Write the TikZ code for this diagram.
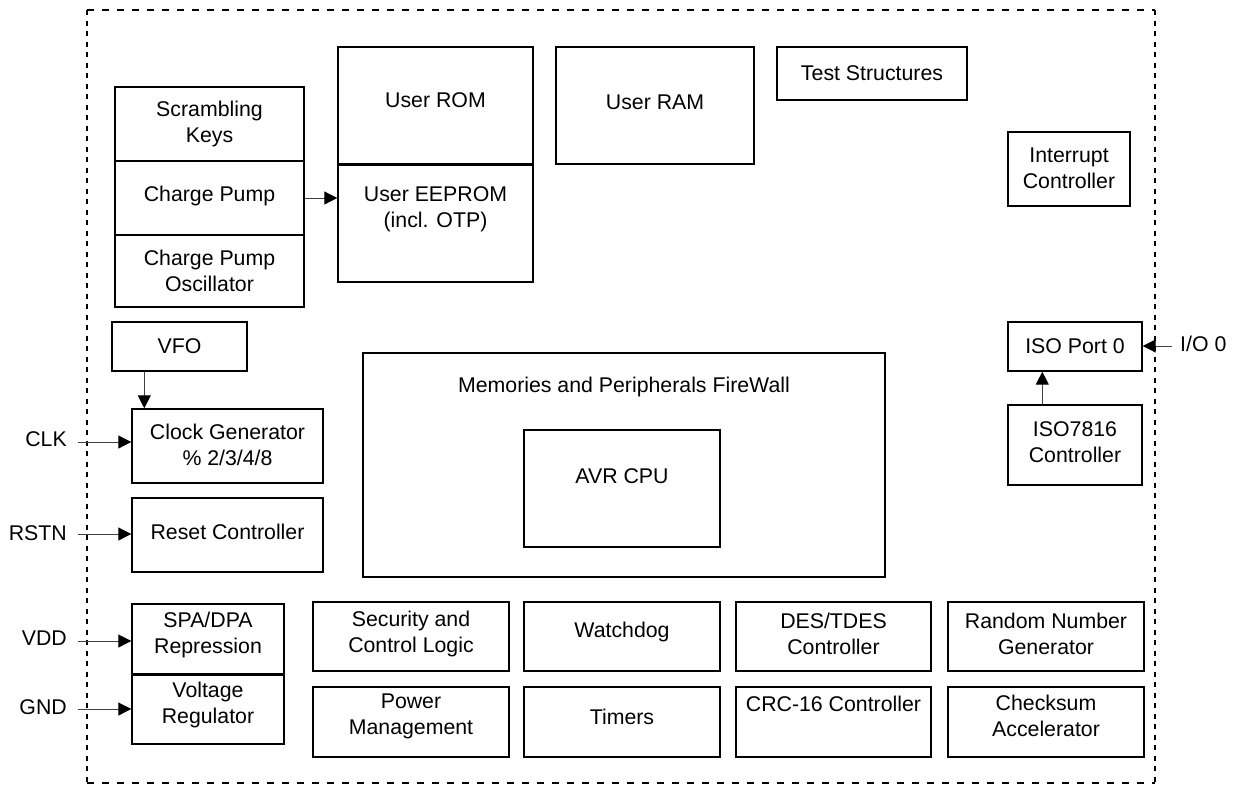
\documentclass[tikz,border=0pt]{standalone}
\usepackage{fontspec}
\setmainfont{Liberation Sans}
\usetikzlibrary{arrows.meta,calc}
\tikzset{
  box/.style={draw, line width=1.4pt, inner sep=0pt, rectangle},
  txt/.style={align=center, inner sep=0pt, font=\fontsize{21.3}{26}\selectfont},
  arr/.style={line width=1pt, draw=black!75, -{Triangle[length=13pt,width=13pt,color=black]}},
  hborder/.style={line width=2pt, dash pattern=on 7pt off 8pt},
  vborder/.style={line width=2pt, dash pattern=on 5pt off 5.5pt}
}
\newcommand\blk[7]{%
  \node[box, minimum width={#4-#2}, minimum height={#5-#3}] (#1) at ({(#2+#4)/2},{(#3+#5)/2}) {};
  \node[txt] (#1-t) at ({(#2+#4)/2},#6) {#7};
}
\begin{document}
\begin{tikzpicture}[x=1pt,y=-1pt]
\useasboundingbox (0,0) rectangle (1236,785);
% dashed border
\draw[hborder] (87,10) -- (1155,10);
\draw[hborder] (87,783) -- (1155,783);
\draw[vborder] (87,10) -- (87,783);
\draw[vborder] (1155,10) -- (1155,783);

% blocks
\blk{scr}{115}{87}{304}{161}{124}{Scrambling\\Keys}
\blk{cp}{115}{161}{304}{235}{196}{Charge Pump}
\blk{cpo}{115}{235}{304}{307}{271}{Charge Pump\\Oscillator}
\blk{rom}{338}{47}{533}{164}{100}{User ROM}
\blk{eep}{338}{164}{533}{282}{209}{User EEPROM\\(incl. OTP)}
\draw[line width=2.8pt] (rom.south west) -- (rom.south east);
\blk{ram}{556}{47}{754}{164}{102}{User RAM}
\blk{test}{777}{47}{967}{100}{73}{Test Structures}
\blk{irq}{1008}{132}{1130}{206}{168}{Interrupt\\Controller}
\blk{vfo}{112}{322}{247}{371}{346}{VFO}
\blk{clock}{132}{409}{323}{483}{445}{Clock Generator\\\% 2/3/4/8}
\blk{reset}{132}{498}{323}{572}{532}{Reset Controller}
\blk{spa}{132}{604}{284}{674}{635}{SPA/DPA\\Repression}
\blk{vr}{132}{674}{284}{744}{705}{Voltage\\Regulator}
\draw[line width=3.5pt] (spa.south west) -- (spa.south east);
\blk{fw}{363}{353}{885}{577}{387}{Memories and Peripherals FireWall}
\blk{avr}{524}{430}{720}{547}{476}{AVR CPU}
\blk{isop}{1008}{322}{1142}{371}{346}{ISO Port 0}
\blk{iso}{1008}{405}{1142}{485}{442}{ISO7816\\Controller}
% bottom rows
\blk{sec}{313}{602}{509}{671}{634}{Security and\\Control Logic}
\blk{wd}{524}{602}{720}{671}{632}{Watchdog}
\blk{des}{736}{602}{931}{671}{634}{DES/TDES\\Controller}
\blk{rng}{948}{602}{1144}{671}{634}{Random Number\\Generator}
\blk{pm}{313}{687}{509}{757}{716}{Power\\Management}
\blk{tim}{524}{687}{720}{757}{717}{Timers}
\blk{crc}{736}{687}{931}{757}{704}{CRC-16 Controller}
\blk{chk}{948}{687}{1144}{757}{716}{Checksum\\Accelerator}

% internal arrows
\draw[arr] (cp.east) -- (cp.east -| eep.west);
\draw[arr] ([xshift=33pt]vfo.south west) -- ([xshift=13pt]clock.north west);
\draw[arr] ([xshift=35pt]iso.north west) -- ([xshift=35pt]isop.south west);

% external signals
\node[txt, anchor=east] (clk) at (67,439) {CLK};
\coordinate (clkS) at (78,442);
\draw[arr] (clkS) -- (clkS -| clock.west);
\node[txt, anchor=east] (rstn) at (67,533) {RSTN};
\coordinate (rstnS) at (78,534);
\draw[arr] (rstnS) -- (rstnS -| reset.west);
\node[txt, anchor=east] (vdd) at (67,638) {VDD};
\coordinate (vddS) at (78,641);
\draw[arr] (vddS) -- (vddS -| spa.west);
\node[txt, anchor=east] (gnd) at (67,707) {GND};
\coordinate (gndS) at (78,709);
\draw[arr] (gndS) -- (gndS -| vr.west);
\node[txt, anchor=west] (io) at (1180,344) {I/O 0};
\coordinate (ioS) at (1172,346);
\draw[arr] (ioS) -- (ioS -| isop.east);
\end{tikzpicture}
\end{document}
